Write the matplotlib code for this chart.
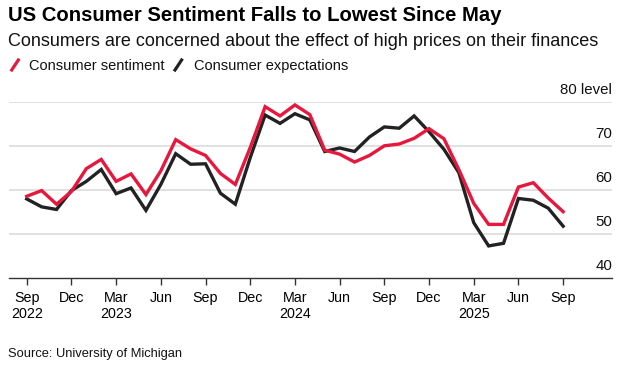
import matplotlib
matplotlib.use("Agg")
import matplotlib.pyplot as plt
from matplotlib.lines import Line2D
from matplotlib.transforms import blended_transform_factory, offset_copy

plt.rcParams["font.family"] = ["Liberation Sans", "DejaVu Sans"]

RED = "#e8173e"
BLACK = "#222222"
GRID = "#d9d9d9"

# monthly, Sep 2022 .. Sep 2025
sentiment = [58.6, 59.9, 56.8, 59.7, 64.9, 67.0, 62.0, 63.7, 59.0, 64.4, 71.5, 69.4,
             67.9, 63.8, 61.3, 69.7, 79.0, 76.9, 79.4, 77.2, 69.1, 68.2, 66.4, 67.9,
             70.1, 70.5, 71.8, 74.0, 71.7, 64.7, 57.0, 52.2, 52.2, 60.7, 61.7, 58.2, 55.1]
expectations = [58.0, 56.2, 55.6, 59.9, 62.0, 64.7, 59.2, 60.5, 55.4, 61.3, 68.3, 65.9,
                66.0, 59.3, 56.8, 67.4, 77.1, 75.2, 77.4, 76.0, 68.8, 69.6, 68.8, 72.1,
                74.4, 74.1, 76.9, 73.3, 69.3, 64.0, 52.6, 47.3, 47.9, 58.1, 57.7, 55.9, 51.8]
tick_labels = ["Sep\n2022", "Dec", "Mar\n2023", "Jun", "Sep", "Dec", "Mar\n2024",
               "Jun", "Sep", "Dec", "Mar\n2025", "Jun", "Sep"]
y_levels = [40, 50, 60, 70, 80]

months = list(range(len(sentiment)))

fig = plt.figure(figsize=(6.23, 3.66), dpi=100)
ax = fig.add_axes([9 / 623, 1 - 278 / 366, (612 - 9) / 623, (278 - 102.3) / 366])

for lv in y_levels[1:]:
    ax.axhline(lv, color=GRID, lw=1.1, zorder=0)

ax.plot(months, expectations, color=BLACK, lw=2.4, solid_joinstyle="miter", zorder=3, clip_on=False)
ax.plot(months, sentiment, color=RED, lw=2.4, solid_joinstyle="miter", zorder=4, clip_on=False)

ax.set_xlim(-1.19, 39.28)
ax.set_ylim(40, 80)
ax.set_xticks(months[::3])
ax.set_xticklabels(tick_labels, fontsize=10.3, linespacing=1.15)
ax.set_yticks([])
ax.tick_params(axis="x", length=5, width=1, color="#333333", pad=4.5)
for s in ["top", "left", "right"]:
    ax.spines[s].set_visible(False)
ax.spines["bottom"].set_color("#333333")
ax.spines["bottom"].set_linewidth(1)

# right-side level labels sitting above each gridline
trans = blended_transform_factory(ax.transAxes, ax.transData)
trans = offset_copy(trans, fig=fig, y=6, units="points")
for lv in y_levels:
    txt = f"{lv} level" if lv == 80 else str(lv)
    ax.text(1.0, lv, txt, transform=trans, ha="right", va="baseline", fontsize=10.8, color="#111111")

fig.text(8 / 623, 1 - 20.7 / 366, "US Consumer Sentiment Falls to Lowest Since May",
         fontsize=14.6, fontweight="bold", va="baseline", color="#000000")
fig.text(8 / 623, 1 - 46 / 366,
         "Consumers are concerned about the effect of high prices on their finances",
         fontsize=13, va="baseline", color="#111111")

# legend: slanted strokes + labels
for x0, col, label, tx in [(11.7, RED, "Consumer sentiment", 29),
                           (175, BLACK, "Consumer expectations", 194)]:
    fig.add_artist(Line2D([x0 / 623, (x0 + 6.6) / 623], [1 - 70 / 366, 1 - 60 / 366],
                          color=col, lw=2.3, transform=fig.transFigure))
    fig.text(tx / 623, 1 - 70 / 366, label, fontsize=10.5, va="baseline", color="#111111")

fig.text(8 / 623, 1 - 357 / 366, "Source: University of Michigan", fontsize=9.3,
         va="baseline", color="#111111")

fig.savefig("out.png", dpi=100)
